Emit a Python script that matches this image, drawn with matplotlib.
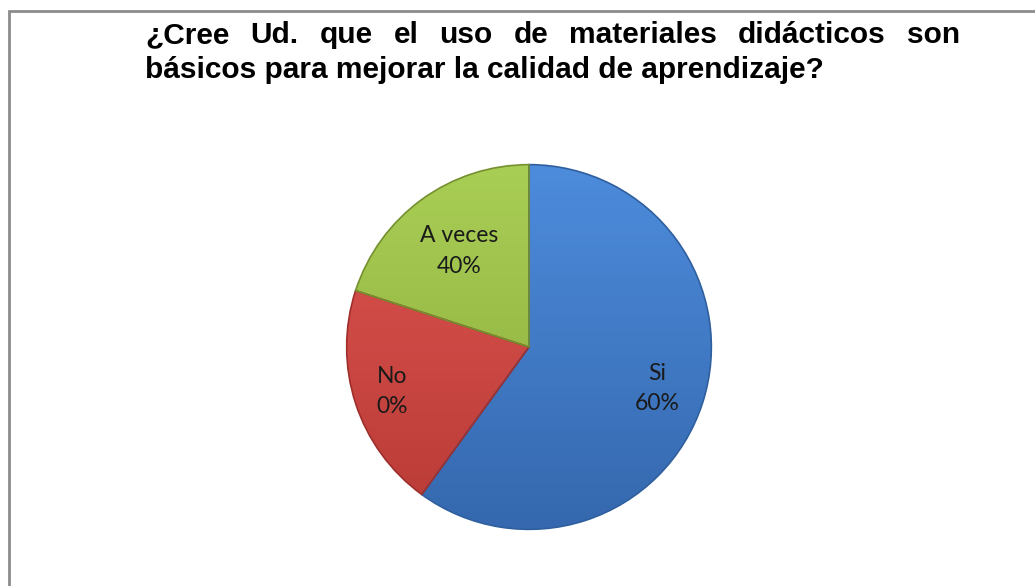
import numpy as np
import matplotlib
matplotlib.use("Agg")
import matplotlib.pyplot as plt
from matplotlib.patches import Rectangle
from matplotlib.colors import LinearSegmentedColormap

# datos del gráfico
categorias = ["Si", "No", "A veces"]
porciones = [60, 20, 20]          # tamaño real de cada sector en la figura
etiquetas_pct = ["60%", "0%", "40%"]  # texto que muestra cada etiqueta
titulo_l1 = "¿Cree Ud. que el uso de materiales didácticos son"
titulo_l2 = "básicos para mejorar la calidad de aprendizaje?"

# colores (claro arriba, oscuro abajo) y bordes
col_claro = ["#4D8CDC", "#DE5651", "#A9CE55"]
col_oscuro = ["#3568AE", "#B93A36", "#8AAA3B"]
bordes = ["#2F5F9E", "#9E2F2C", "#75902F"]
dist_etiqueta = [0.74, 0.79, 0.65]

W, H = 1035, 586
fig = plt.figure(figsize=(W / 100, H / 100), dpi=100)
fig.patch.set_facecolor("white")

# marco gris del gráfico
fig.patches.append(Rectangle((9 / W, -0.1), 1.2, (H - 11) / H + 0.1, transform=fig.transFigure,
                             fill=False, edgecolor="#8C8C8C", linewidth=2))

# título justificado (primera línea repartida entre márgenes)
fuente_tit = dict(family=["Liberation Sans", "DejaVu Sans"],
                  fontsize=16, fontweight="bold", color="black")
x0, x1 = 145 / W, 960 / W
y1, y2 = 1 - 43 / H, 1 - 78 / H
fig.canvas.draw()
r = fig.canvas.get_renderer()

# ajustar tamaño para que la segunda línea mida como en el original (~678 px)
prueba = fig.text(0, 0, titulo_l2, **fuente_tit)
ancho2 = prueba.get_window_extent(r).width
prueba.remove()
fuente_tit["fontsize"] = 16 * 678 / ancho2

palabras = titulo_l1.split()
txts = [fig.text(0, y1, p, ha="left", va="baseline", **fuente_tit) for p in palabras]
anchos = [t.get_window_extent(r).width / W for t in txts]
hueco = (x1 - x0 - sum(anchos)) / (len(palabras) - 1)
x = x0
for t, a in zip(txts, anchos):
    t.set_x(x)
    x += a + hueco
fig.text(x0, y2, titulo_l2, ha="left", va="baseline", **fuente_tit)

# pastel
cx, cy, rad = 529, 586 - 347, 186
ax = fig.add_axes([(cx - rad) / W, (cy - rad) / H, 2 * rad / W, 2 * rad / H])
wedges, _ = ax.pie(porciones, colors=col_claro, startangle=90, counterclock=False,
                   radius=1, wedgeprops=dict(linewidth=1.2))
grad = np.linspace(0, 1, 256).reshape(-1, 1)
for w, cl, co, b in zip(wedges, col_claro, col_oscuro, bordes):
    w.set_edgecolor(b)
    cmap = LinearSegmentedColormap.from_list("g", [cl, co])
    im = ax.imshow(grad, cmap=cmap, extent=(-1, 1, -1, 1), origin="upper",
                   aspect="auto", zorder=w.get_zorder())
    im.set_clip_path(w)
    w.set_facecolor("none")
    w.set_zorder(w.get_zorder() + 0.5)
ax.set_xlim(-1.02, 1.02)
ax.set_ylim(-1.02, 1.02)
ax.set_aspect("equal")
ax.axis("off")

for w, cat, pct, d in zip(wedges, categorias, etiquetas_pct, dist_etiqueta):
    ang = np.deg2rad((w.theta1 + w.theta2) / 2)
    ax.text(d * np.cos(ang), d * np.sin(ang), cat + "\n" + pct, ha="center", va="center",
            fontsize=16.5, family=["Lato", "DejaVu Sans"], color="#1A1A1A",
            linespacing=1.55, zorder=5)

fig.savefig("out.png", dpi=100)
